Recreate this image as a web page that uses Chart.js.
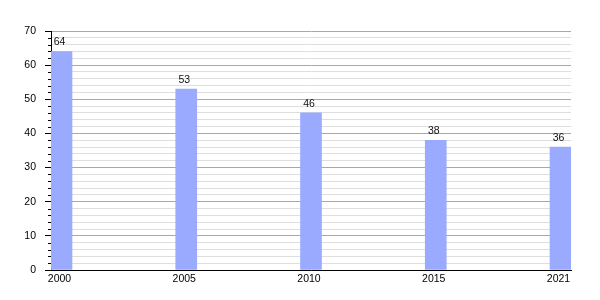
<!DOCTYPE html>
<html>
<head>
<meta charset="utf-8">
<script src="https://cdn.jsdelivr.net/npm/chart.js@4"></script>
<style>
html,body{margin:0;padding:0;background:#fff;}
canvas{display:block;}
</style>
</head>
<body>
<canvas id="c" width="600" height="300"></canvas>
<script>
const years = ['2000', '2005', '2010', '2015', '2021'];
const values = [64, 53, 46, 38, 36];
const yTicks = { min: 0, max: 70, minorStep: 2, majorStep: 10 };

const FONT = 'Liberation Sans, Arial, sans-serif';
const HALF = 0.084; // half bar width in category units
const LABEL_SHIFT = 0.016;

const minorTicks = {
  id: 'minorTicks',
  afterDraw(chart) {
    const ctx = chart.ctx;
    const y = chart.scales.y;
    const left = chart.chartArea.left;
    ctx.save();
    ctx.strokeStyle = '#000';
    ctx.lineWidth = 1;
    y.ticks.forEach(t => {
      if (t.value % yTicks.majorStep !== 0) {
        const py = Math.round(y.getPixelForValue(t.value)) + 0.5;
        ctx.beginPath();
        ctx.moveTo(left - 3, py);
        ctx.lineTo(left, py);
        ctx.stroke();
      }
    });
    ctx.restore();
  }
};

const dataLabels = {
  id: 'dataLabels',
  afterDatasetsDraw(chart) {
    const ctx = chart.ctx;
    const meta = chart.getDatasetMeta(0);
    ctx.save();
    ctx.font = '10.5px ' + FONT;
    ctx.fillStyle = '#111';
    ctx.textAlign = 'center';
    ctx.textBaseline = 'bottom';
    meta.data.forEach((bar, i) => {
      ctx.fillText(String(values[i]), bar.x - 2, bar.y - 4);
    });
    ctx.restore();
  }
};

new Chart(document.getElementById('c'), {
  type: 'bar',
  data: {
    datasets: [{
      data: values.map((v, i) => ({ x: i, y: v })),
      backgroundColor: 'rgb(153,170,255)',
      borderWidth: 0,
      barThickness: 21
    }]
  },
  options: {
    responsive: false,
    animation: false,
    events: [],
    layout: { padding: { top: 31, right: 29, left: 0, bottom: 0 } },
    plugins: { legend: { display: false }, tooltip: { enabled: false } },
    scales: {
      x: {
        type: 'linear',
        offset: false,
        min: -HALF,
        max: years.length - 1 + HALF,
        grid: { display: false, drawTicks: false, offset: false },
        border: { display: true, color: '#000', width: 1 },
        afterBuildTicks(scale) {
          scale.ticks = years.map((_, i) => ({ value: i - LABEL_SHIFT }));
        },
        afterFit(scale) { scale.height = 30; },
        ticks: {
          autoSkip: false,
          maxRotation: 0,
          padding: 3,
          color: '#000',
          font: { family: FONT, size: 10.5 },
          callback: v => years[Math.round(v)]
        }
      },
      y: {
        min: yTicks.min,
        max: yTicks.max,
        afterFit(scale) { scale.width = 51; },
        grid: {
          color: c => (c.tick && c.tick.value % yTicks.majorStep === 0) ? '#a8a8a8' : '#dedede',
          tickColor: c => (c.tick && c.tick.value % yTicks.majorStep === 0) ? '#000' : 'rgba(0,0,0,0)',
          tickLength: 6,
          lineWidth: 1
        },
        border: { display: true, color: '#000', width: 1 },
        ticks: {
          stepSize: yTicks.minorStep,
          autoSkip: false,
          padding: 9,
          color: '#000',
          font: { family: FONT, size: 10.5 },
          callback: v => (v % yTicks.majorStep === 0 ? String(v) : '')
        }
      }
    }
  },
  plugins: [minorTicks, dataLabels]
});
</script>
</body>
</html>
